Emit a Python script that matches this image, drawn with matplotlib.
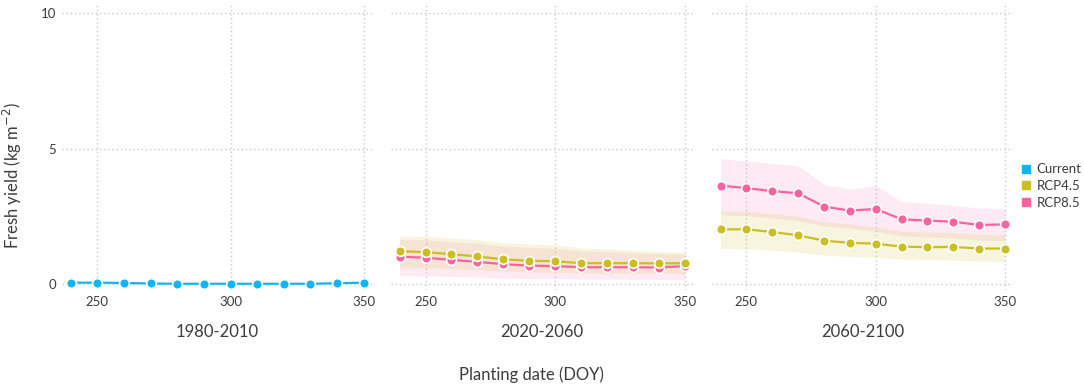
import matplotlib
matplotlib.use("Agg")
import matplotlib.pyplot as plt
from matplotlib.lines import Line2D
import numpy as np

plt.rcParams['font.family'] = ['Lato', 'DejaVu Sans']

doy = [240, 250, 260, 270, 280, 290, 300, 310, 320, 330, 340, 350]
periods = ["1980-2010", "2020-2060", "2060-2100"]

current = [0.05, 0.05, 0.04, 0.02, 0.01, 0.01, 0.01, 0.01, 0.01, 0.01, 0.03, 0.05]

# 2020-2060
rcp45_p2 = [1.21, 1.18, 1.10, 1.02, 0.91, 0.86, 0.84, 0.77, 0.77, 0.77, 0.76, 0.77]
rcp45_p2_hi = [1.78, 1.76, 1.70, 1.63, 1.53, 1.48, 1.45, 1.33, 1.30, 1.25, 1.20, 1.17]
rcp45_p2_lo = [0.62, 0.60, 0.57, 0.53, 0.48, 0.45, 0.44, 0.41, 0.40, 0.40, 0.39, 0.39]
rcp85_p2 = [1.01, 0.97, 0.89, 0.82, 0.73, 0.68, 0.66, 0.62, 0.62, 0.62, 0.61, 0.66]
rcp85_p2_hi = [1.65, 1.63, 1.56, 1.50, 1.40, 1.35, 1.32, 1.22, 1.20, 1.16, 1.12, 1.10]
rcp85_p2_lo = [0.31, 0.30, 0.28, 0.26, 0.22, 0.20, 0.20, 0.18, 0.18, 0.18, 0.17, 0.17]

# 2060-2100
rcp45_p3 = [2.02, 2.02, 1.92, 1.80, 1.60, 1.52, 1.49, 1.38, 1.36, 1.37, 1.31, 1.31]
rcp45_p3_hi = [2.70, 2.68, 2.60, 2.50, 2.30, 2.22, 2.10, 1.95, 1.92, 1.90, 1.83, 1.81]
rcp45_p3_lo = [1.32, 1.30, 1.25, 1.18, 1.06, 1.02, 0.99, 0.92, 0.90, 0.88, 0.85, 0.83]
rcp85_p3 = [3.63, 3.54, 3.43, 3.35, 2.86, 2.71, 2.77, 2.39, 2.34, 2.30, 2.18, 2.20]
rcp85_p3_hi = [4.63, 4.54, 4.45, 4.36, 3.68, 3.50, 3.63, 3.04, 2.98, 2.90, 2.80, 2.79]
rcp85_p3_lo = [2.55, 2.52, 2.44, 2.34, 2.14, 2.06, 1.95, 1.78, 1.74, 1.70, 1.62, 1.60]

C_CUR = "#12B5F0"
C_45 = "#CBBE22"
C_85 = "#FA62A0"
GRID = "#C9C9DA"
TXT = "#3d3d3d"

fig = plt.figure(figsize=(10.84, 3.88), dpi=100)
W, H = 1084.0, 388.0
lefts = [62, 391, 712]
widths = [310, 302, 301]
top_px, bot_px = 3, 290

axes = []
for i in range(3):
    ax = fig.add_axes([lefts[i] / W, 1 - bot_px / H, widths[i] / W, (bot_px - top_px) / H])
    axes.append(ax)
    ax.set_xlim(236.7, 353.1)
    ax.set_ylim(-0.22, 10.37)
    ax.set_xticks([250, 300, 350])
    ax.set_yticks([0, 5, 10])
    for s in ax.spines.values():
        s.set_visible(False)
    ax.grid(True, color=GRID, linestyle=(0, (1, 2)), linewidth=1)
    ax.tick_params(length=0, labelsize=9.5, colors=TXT, pad=4)
    ax.set_axisbelow(True)
    if i > 0:
        ax.tick_params(labelleft=False)
    ax.text(0.5, -0.148, periods[i], transform=ax.transAxes, ha='center', va='center',
            fontsize=12, color=TXT)

mk = dict(marker='o', markersize=7, markeredgecolor='white', markeredgewidth=1.2, linewidth=1.6)

axes[0].plot(doy, current, color=C_CUR, **mk, zorder=3)

ax = axes[1]
ax.fill_between(doy, rcp85_p2_lo, rcp85_p2_hi, color=C_85, alpha=0.13, linewidth=0)
ax.fill_between(doy, rcp45_p2_lo, rcp45_p2_hi, color=C_45, alpha=0.15, linewidth=0)
ax.plot(doy, rcp85_p2, color=C_85, **mk, zorder=3)
ax.plot(doy, rcp45_p2, color=C_45, **mk, zorder=4)

ax = axes[2]
ax.fill_between(doy, rcp85_p3_lo, rcp85_p3_hi, color=C_85, alpha=0.13, linewidth=0)
ax.fill_between(doy, rcp45_p3_lo, rcp45_p3_hi, color=C_45, alpha=0.15, linewidth=0)
ax.plot(doy, rcp85_p3, color=C_85, **mk, zorder=3)
ax.plot(doy, rcp45_p3, color=C_45, **mk, zorder=4)

fig.text(12 / W, 1 - 176 / H, "Fresh yield (kg m$^{-2}$)", rotation=90, ha='center', va='center',
         fontsize=12, color=TXT)
fig.text(531 / W, 1 - 375 / H, "Planting date (DOY)", ha='center', va='center', fontsize=12, color=TXT)

handles = [Line2D([], [], marker='s', linestyle='none', color=c, markersize=6)
           for c in (C_CUR, C_45, C_85)]
leg = fig.legend(handles, ["Current", "RCP4.5", "RCP8.5"], loc='center left',
                 bbox_to_anchor=(1022 / W, 1 - 186 / H), frameon=False, fontsize=9.5,
                 handlelength=0.6, handletextpad=0.5, labelspacing=0.35, borderpad=0, borderaxespad=0)
for t in leg.get_texts():
    t.set_color(TXT)

fig.savefig("out.png", dpi=100)
